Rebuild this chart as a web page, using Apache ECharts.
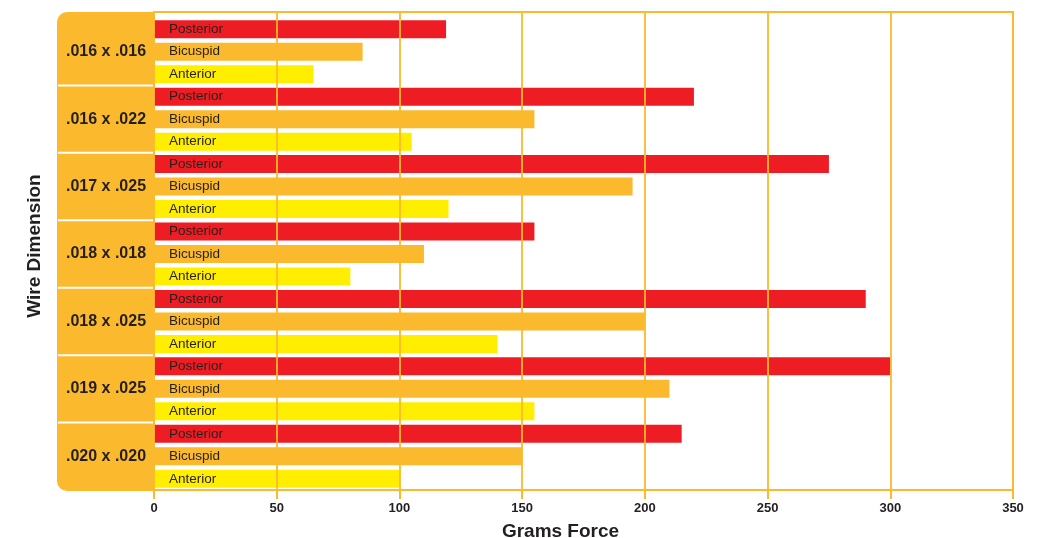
<!DOCTYPE html>
<html>
<head>
<meta charset="utf-8">
<script src="https://cdn.jsdelivr.net/npm/echarts@6/dist/echarts.min.js"></script>
<style>
  html, body { margin: 0; padding: 0; background: #fff; }
  #container { width: 1055px; height: 538px; }
</style>
</head>
<body>
<div id="container"></div>
<script>
var categories = ['.016 x .016', '.016 x .022', '.017 x .025', '.018 x .018', '.018 x .025', '.019 x .025', '.020 x .020'];
var posterior = [119, 220, 275, 155, 290, 300, 215];
var bicuspid = [85, 155, 195, 110, 200, 210, 150];
var anterior = [65, 105, 120, 80, 140, 155, 100];
var xMin = 0, xMax = 350, xStep = 50;

var RED = '#EE1D24', ORANGE = '#FBB92D', YELLOW = '#FFEE00', INK = '#231F20';
var FONT = 'Liberation Sans, Arial, sans-serif';

var dom = document.getElementById('container');
var myChart = echarts.init(dom);

function barSeries(name, data, color) {
    return {
        name: name,
        type: 'bar',
        xAxisIndex: 1,
        yAxisIndex: 1,
        data: data,
        barWidth: 18,
        barGap: '25%',
        itemStyle: { color: color },
        label: {
            show: true,
            position: 'insideLeft',
            distance: 15,
            formatter: name,
            color: INK,
            fontFamily: FONT,
            fontSize: 13.5
        }
    };
}

var option = {
    animation: false,
    grid: [
        // frame + grid lines
        { left: 154, right: 42, top: 12, bottom: 48, outerBoundsMode: 'none', containLabel: false,
          show: true, borderColor: ORANGE, borderWidth: 2, backgroundColor: 'transparent' },
        // bars
        { left: 154, right: 42, top: 18, bottom: 48, outerBoundsMode: 'none', containLabel: false }
    ],
    xAxis: [
        {
            gridIndex: 0, type: 'value', min: xMin, max: xMax, interval: xStep, z: 10,
            axisLine: { show: true, lineStyle: { color: ORANGE, width: 2 } },
            axisTick: { show: true, length: 9, lineStyle: { color: ORANGE, width: 2 } },
            splitLine: { show: true, lineStyle: { color: ORANGE, width: 2, opacity: 0.9 } },
            axisLabel: { color: INK, fontWeight: 'bold', fontSize: 13, fontFamily: FONT, margin: 12 },
            name: 'Grams Force',
            nameLocation: 'middle',
            nameGap: 32,
            nameTextStyle: { color: INK, fontWeight: 'bold', fontSize: 19, fontFamily: FONT, padding: [0, 46, 0, 0] }
        },
        { gridIndex: 1, type: 'value', min: xMin, max: xMax, show: false }
    ],
    yAxis: [
        { gridIndex: 0, type: 'value', show: false },
        {
            gridIndex: 1, type: 'category', inverse: true, data: categories,
            axisLine: { show: false }, axisTick: { show: false }, splitLine: { show: false },
            axisLabel: { color: INK, fontWeight: 'bold', fontSize: 16, fontFamily: FONT, align: 'center', margin: 48 }
        }
    ],
    series: [
        barSeries('Posterior', posterior, RED),
        barSeries('Bicuspid', bicuspid, ORANGE),
        barSeries('Anterior', anterior, YELLOW)
    ],
    graphic: [
        { type: 'rect', z: -1, shape: { x: 57, y: 12, width: 98, height: 479, r: [10, 0, 0, 10] }, style: { fill: ORANGE } },
        { type: 'text', x: 35, y: 246, rotation: Math.PI / 2,
          style: { text: 'Wire Dimension', fill: INK, font: 'bold 19px ' + FONT, textAlign: 'center', textVerticalAlign: 'middle' } }
    ]
};
myChart.setOption(option);

// white separators in the left panel, between category bands
var seps = [];
for (var i = 1; i < categories.length; i++) {
    var y = (myChart.convertToPixel({ yAxisIndex: 1 }, categories[i - 1]) +
             myChart.convertToPixel({ yAxisIndex: 1 }, categories[i])) / 2;
    seps.push({ type: 'line', z: 5, shape: { x1: 58, y1: y, x2: 153, y2: y }, style: { stroke: '#fff', lineWidth: 2 } });
}
myChart.setOption({ graphic: option.graphic.concat(seps) });
</script>
</body>
</html>
